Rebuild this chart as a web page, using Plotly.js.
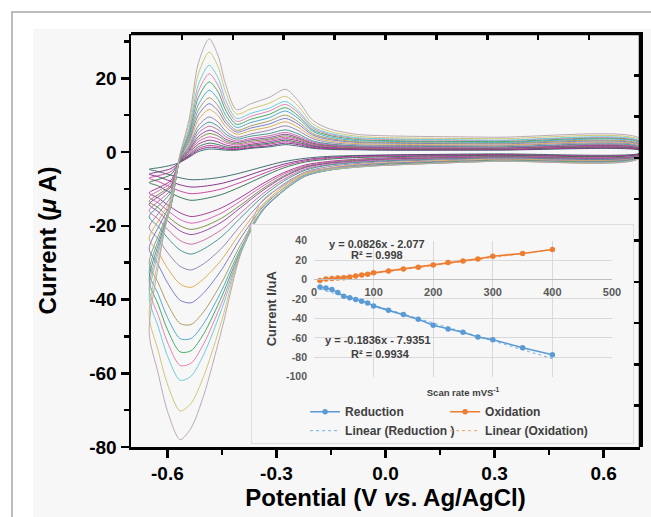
<!DOCTYPE html>
<html>
<head>
<meta charset="utf-8">
<script src="https://cdn.plot.ly/plotly-3.0.1.min.js"></script>
<style>
html,body{margin:0;padding:0;background:#ffffff;}
#chart{width:651px;height:517px;}
</style>
</head>
<body>
<div id="chart"></div>
<script>
// ---------- main CV data ----------
const scanRates = [10,20,30,40,50,60,70,80,90,100,125,150,175,200,225,250,275,300,350,400];

const forwardPotential = [-0.65,-0.62,-0.59,-0.565,-0.54,-0.515,-0.485,-0.46,-0.44,-0.41,-0.37,-0.32,-0.275,-0.24,-0.20,-0.155,-0.08,0.0,0.3,0.7];
const reversePotential = [0.7,0.3,0.0,-0.10,-0.16,-0.22,-0.28,-0.34,-0.40,-0.45,-0.50,-0.535,-0.565,-0.60,-0.625,-0.65];

const forwardCurrent = [
  [-4.7,-4.2,-3.6,-2.8,-1.4,0.1,0.8,0.7,0.5,0.5,1.0,1.4,2.0,1.6,1.0,0.7,0.6,0.5,0.5,0.4],
  [-6.0,-5.3,-4.5,-2.7,-1.2,0.5,1.3,1.1,0.8,0.7,1.2,1.7,2.4,2.0,1.2,0.9,0.7,0.6,0.6,0.5],
  [-7.1,-6.3,-5.3,-2.7,-1.0,0.9,1.8,1.5,1.1,0.9,1.5,2.1,2.8,2.3,1.4,1.0,0.8,0.7,0.7,0.6],
  [-8.3,-7.3,-6.1,-2.6,-0.8,1.4,2.4,2.0,1.4,1.2,1.8,2.4,3.2,2.6,1.6,1.2,0.9,0.8,0.8,0.7],
  [-11.1,-9.5,-7.7,-2.5,-0.4,2.1,3.2,2.7,1.9,1.5,2.1,2.8,3.6,3.0,1.8,1.3,1.0,0.9,0.9,0.8],
  [-12.2,-10.3,-8.3,-2.4,-0.1,2.8,4.1,3.5,2.5,1.9,2.5,3.2,4.0,3.3,2.0,1.5,1.1,1.0,0.9,0.9],
  [-13.4,-11.2,-9.0,-2.4,0.2,3.5,5.0,4.3,3.0,2.2,2.9,3.5,4.4,3.6,2.2,1.6,1.2,1.1,1.0,0.9],
  [-14.2,-11.8,-9.4,-2.3,0.5,4.2,5.9,5.0,3.5,2.6,3.3,3.9,4.8,3.9,2.4,1.8,1.4,1.2,1.1,1.0],
  [-15.9,-13.0,-10.2,-2.2,0.8,5.1,7.0,6.0,4.2,3.0,3.7,4.4,5.3,4.3,2.7,2.0,1.5,1.4,1.3,1.1],
  [-17.6,-14.2,-10.9,-2.1,1.2,6.0,8.1,6.9,4.9,3.5,4.3,5.0,6.0,4.9,3.0,2.2,1.7,1.6,1.4,1.3],
  [-20.5,-16.1,-12.0,-2.0,1.7,7.1,9.5,8.1,5.7,4.0,4.9,5.9,7.1,5.8,3.6,2.6,2.0,1.8,1.7,1.5],
  [-23.5,-17.9,-12.9,-1.8,2.4,8.7,11.5,9.8,6.9,4.8,5.8,6.8,8.2,6.7,4.1,3.0,2.3,2.1,1.9,1.7],
  [-26.3,-19.5,-13.6,-1.7,3.0,10.0,13.1,11.1,7.9,5.4,6.5,7.6,9.1,7.5,4.6,3.4,2.6,2.4,2.2,1.9],
  [-30.2,-21.5,-14.3,-1.5,3.6,11.3,14.7,12.5,8.8,5.9,7.1,8.4,10.0,8.2,5.0,3.7,2.8,2.6,2.4,2.1],
  [-32.7,-22.6,-14.5,-1.4,4.3,12.8,16.7,14.2,10.0,6.7,8.0,9.3,11.1,9.1,5.6,4.1,3.1,2.9,2.6,2.4],
  [-34.9,-23.6,-14.6,-1.2,5.0,14.7,19.0,16.2,11.4,7.5,8.9,10.2,12.0,9.8,6.0,4.5,3.4,3.1,2.8,2.6],
  [-37.2,-24.5,-14.5,-1.1,5.7,16.4,21.2,18.0,12.7,8.3,9.7,11.1,12.9,10.6,6.5,4.8,3.7,3.4,3.1,2.7],
  [-39.6,-25.4,-14.3,-1.0,6.5,18.2,23.5,20.0,14.1,9.1,10.5,11.9,13.7,11.2,6.9,5.1,3.9,3.6,3.2,2.9],
  [-44.5,-26.9,-13.5,-0.7,7.7,21.1,27.1,23.0,16.3,10.3,11.7,13.2,15.1,12.4,7.6,5.6,4.3,3.9,3.6,3.2],
  [-49.0,-28.0,-12.0,-0.5,8.9,24.0,30.7,26.0,18.4,11.5,13.1,14.8,17.0,13.9,8.6,6.3,4.8,4.4,4.0,3.6]
];

const reverseCurrent = [
  [-0.3,-0.5,-0.8,-1.0,-1.2,-1.7,-2.6,-4.1,-5.7,-6.8,-7.4,-7.5,-7.0,-6.0,-5.3,-4.7],
  [-0.4,-0.7,-0.9,-1.2,-1.5,-2.1,-3.3,-5.1,-7.1,-8.5,-9.3,-9.5,-8.9,-7.6,-6.7,-6.0],
  [-0.4,-0.8,-1.1,-1.4,-1.7,-2.4,-3.8,-6.0,-8.3,-10.0,-11.0,-11.3,-10.6,-9.1,-8.0,-7.1],
  [-0.5,-0.9,-1.3,-1.6,-2.0,-2.7,-4.3,-6.8,-9.5,-11.5,-12.7,-13.1,-12.3,-10.6,-9.2,-8.3],
  [-0.7,-1.1,-1.6,-2.1,-2.6,-3.5,-5.6,-8.7,-12.4,-15.1,-16.9,-17.5,-16.5,-14.3,-12.5,-11.1],
  [-0.7,-1.2,-1.8,-2.3,-2.8,-3.8,-6.0,-9.4,-13.4,-16.5,-18.6,-19.3,-18.3,-15.8,-13.8,-12.2],
  [-0.8,-1.3,-1.9,-2.4,-3.0,-4.0,-6.5,-10.1,-14.5,-17.9,-20.2,-21.0,-20.0,-17.4,-15.1,-13.4],
  [-0.8,-1.4,-2.0,-2.6,-3.1,-4.2,-6.8,-10.6,-15.2,-19.0,-21.5,-22.4,-21.4,-18.6,-16.2,-14.2],
  [-0.9,-1.5,-2.2,-2.8,-3.4,-4.6,-7.4,-11.5,-16.7,-21.0,-23.9,-25.0,-24.0,-20.9,-18.2,-15.9],
  [-1.0,-1.6,-2.4,-3.0,-3.6,-4.9,-7.9,-12.3,-18.0,-22.9,-26.3,-27.7,-26.6,-23.2,-20.2,-17.6],
  [-1.1,-1.8,-2.6,-3.3,-4.0,-5.4,-8.7,-13.5,-20.1,-26.0,-30.3,-32.0,-31.0,-27.2,-23.6,-20.5],
  [-1.2,-2.0,-2.9,-3.6,-4.4,-5.8,-9.3,-14.5,-22.0,-29.1,-34.4,-36.7,-35.8,-31.4,-27.2,-23.5],
  [-1.3,-2.2,-3.1,-3.8,-4.6,-6.1,-9.8,-15.2,-23.6,-31.8,-38.2,-40.9,-40.2,-35.4,-30.6,-26.3],
  [-1.4,-2.3,-3.3,-4.1,-4.9,-6.4,-10.3,-15.9,-25.4,-35.3,-43.3,-46.8,-46.5,-41.1,-35.5,-30.2],
  [-1.4,-2.4,-3.4,-4.2,-5.0,-6.5,-10.5,-16.1,-26.4,-37.4,-46.5,-50.6,-50.6,-44.8,-38.6,-32.7],
  [-1.5,-2.4,-3.5,-4.2,-5.0,-6.5,-10.5,-16.2,-27.1,-39.1,-49.3,-53.9,-54.2,-48.1,-41.4,-34.9],
  [-1.5,-2.5,-3.6,-4.3,-5.0,-6.5,-10.5,-16.1,-27.6,-40.8,-52.0,-57.3,-57.9,-51.5,-44.3,-37.2],
  [-1.5,-2.5,-3.6,-4.3,-5.0,-6.4,-10.4,-15.8,-28.0,-42.5,-54.9,-60.8,-61.9,-55.2,-47.4,-39.6],
  [-1.6,-2.5,-3.6,-4.2,-4.8,-6.0,-9.9,-14.8,-27.7,-45.6,-60.8,-68.2,-70.2,-62.9,-53.9,-44.5],
  [-1.6,-2.5,-3.6,-4.0,-4.5,-5.5,-9.0,-13.3,-28.1,-48.0,-66.0,-74.9,-78.0,-70.2,-60.1,-49.0]
];

const curveColors = ['#2f6060','#7b2382','#c2389c','#2e6e4c','#9b2c8c','#d25ab4','#6f8a3c','#8c3ca2','#c4649e','#3a8c8c',
                     '#8a7caa','#d9a448','#6c72c2','#a49458','#44a2c8','#36a256','#e07aa8','#62c6dc','#c8c266','#b5a0ae'];

// ---------- inset data ----------
const reductionCurrent = [-7.6,-8.6,-10.3,-13.4,-17.2,-18.6,-20.6,-22.3,-24.0,-27.1,-31.6,-36.0,-40.9,-47.1,-50.9,-54.3,-59.1,-61.9,-70.1,-77.3];
const oxidationCurrent = [-1.0,0.7,1.0,1.7,1.8,2.7,3.8,4.8,5.5,6.9,8.9,11.0,12.7,15.1,17.5,19.2,21.3,24.0,26.8,30.9];
const trendScanRate = [10,400];
const reductionTrend = [-9.8,-81.4];
const oxidationTrend = [-1.2,31.0];

// ---------- tick labels ----------
const xTickVals = [-0.6,-0.3,0,0.3,0.6];
const xTickText = ['-0.6','-0.3','0.0','0.3','0.6'];
const yTickVals = [-80,-60,-40,-20,0,20];
const yTickText = ['-80','-60','-40','-20','0','20'];
const insetXTicks = [0,100,200,300,400,500];
const insetXText = ['0','100','200','300','400','500'];
const insetYTicks = [-100,-80,-60,-40,-20,0,20,40];
const insetYText = ['-100','-80','-60','-40','-20','0','20','40'];

const FONT = 'Liberation Sans, Arial, sans-serif';

const traces = [];
for (let i = 0; i < scanRates.length; i++) {
  traces.push({
    type: 'scatter', mode: 'lines',
    x: forwardPotential.concat(reversePotential),
    y: forwardCurrent[i].concat(reverseCurrent[i]),
    line: {color: curveColors[i], width: 1, shape: 'spline', smoothing: 0.8},
    opacity: 0.9,
    showlegend: false, hoverinfo: 'skip',
    xaxis: 'x', yaxis: 'y', name: scanRates[i] + ' mV/s'
  });
}
// placeholder traces (no visible data) that register the inset box and the top/right frame subplots
traces.push({type: 'scatter', mode: 'lines', x: [null], y: [null], xaxis: 'x3', yaxis: 'y3', showlegend: false});
traces.push({type: 'scatter', mode: 'lines', x: [null], y: [null], xaxis: 'x5', yaxis: 'y5', showlegend: false});

traces.push({
  type: 'scatter', mode: 'lines', x: trendScanRate, y: reductionTrend,
  line: {color: '#8dbde6', width: 1.2, dash: 'dot'},
  name: 'Linear (Reduction )', xaxis: 'x4', yaxis: 'y4', legend: 'legend2', legendwidth: 95, hoverinfo: 'skip'
});
traces.push({
  type: 'scatter', mode: 'lines', x: trendScanRate, y: oxidationTrend,
  line: {color: '#f2b07e', width: 1.2, dash: 'dot'},
  name: 'Linear (Oxidation)', xaxis: 'x4', yaxis: 'y4', legend: 'legend2', legendwidth: 125, hoverinfo: 'skip'
});
traces.push({
  type: 'scatter', mode: 'lines+markers', x: scanRates, y: reductionCurrent,
  line: {color: '#5b9bd5', width: 1.6}, marker: {color: '#5b9bd5', size: 5.5},
  name: 'Reduction', xaxis: 'x4', yaxis: 'y4', legend: 'legend', legendwidth: 95, hoverinfo: 'skip'
});
traces.push({
  type: 'scatter', mode: 'lines+markers', x: scanRates, y: oxidationCurrent,
  line: {color: '#ed7d31', width: 1.6}, marker: {color: '#ed7d31', size: 5.5},
  name: 'Oxidation', xaxis: 'x4', yaxis: 'y4', legend: 'legend', legendwidth: 125, hoverinfo: 'skip'
});

const bold = (size, color) => ({family: FONT, size: size, color: color || '#000', weight: 700});

const shapes = [
  // figure background and outer border
  {type: 'rect', xref: 'paper', yref: 'paper', x0: -0.1925, x1: 1.2, y0: -0.3, y1: 1.0121,
   fillcolor: '#f7f7f7', line: {width: 0}, layer: 'below'},
  {type: 'rect', xref: 'paper', yref: 'paper', x0: -0.2338, x1: 1.2, y0: -0.3, y1: 1.0533,
   fillcolor: 'rgba(0,0,0,0)', line: {color: '#a6a6a6', width: 1.5}, layer: 'below'},
  // opaque inset panel, drawn inside the inset-box subplot so it hides the curves behind it
  {type: 'rect', xref: 'x3', yref: 'y3', x0: 0, x1: 1, y0: 0, y1: 1,
   fillcolor: '#f7f7f7', line: {width: 0}, layer: 'below'},
  // top and right plot edges
  {type: 'line', xref: 'paper', yref: 'paper', x0: 0, x1: 1, y0: 1, y1: 1,
   line: {color: '#000', width: 2.5}, layer: 'above'},
  {type: 'line', xref: 'paper', yref: 'paper', x0: 1, x1: 1, y0: 0, y1: 1,
   line: {color: '#000', width: 2.5}, layer: 'above'}
];

const layout = {
  width: 651, height: 517,
  margin: {l: 131, r: 11, t: 34, b: 70, pad: 0},
  paper_bgcolor: '#ffffff',
  plot_bgcolor: 'rgba(0,0,0,0)',
  font: {family: FONT, color: '#000'},
  showlegend: true,
  xaxis: {
    domain: [0, 1], anchor: 'y', range: [-0.7, 0.7],
    tickmode: 'array', tickvals: xTickVals, ticktext: xTickText,
    ticks: 'outside', ticklen: 8, tickwidth: 2.5, tickcolor: '#000',
    minor: {tickmode: 'array', tickvals: [-0.45, -0.15, 0.15, 0.45], ticks: 'outside', ticklen: 5, tickwidth: 2.5, tickcolor: '#000', showgrid: false},
    showline: true, linewidth: 2.5, linecolor: '#000',
    showgrid: false, zeroline: false, automargin: false,
    tickfont: bold(19),
    title: {text: 'Potential (V <i>vs</i>. Ag/AgCl)', font: bold(24), standoff: 6}
  },
  yaxis: {
    domain: [0, 1], anchor: 'x', range: [-80, 32],
    tickmode: 'array', tickvals: yTickVals, ticktext: yTickText,
    ticks: 'outside', ticklen: 8, tickwidth: 2.5, tickcolor: '#000',
    minor: {tickmode: 'array', tickvals: [-70, -50, -30, -10, 10, 30], ticks: 'outside', ticklen: 5, tickwidth: 2.5, tickcolor: '#000', showgrid: false},
    showline: true, linewidth: 2.5, linecolor: '#000',
    showgrid: false, zeroline: false, automargin: false,
    tickfont: bold(19),
    title: {text: 'Current (<i>μ</i> A)', font: bold(24), standoff: 26}
  },
  // inset frame
  xaxis3: {
    domain: [0.2377, 0.9862], anchor: 'y3', range: [0, 1],
    showline: true, mirror: true, linecolor: '#dedede', linewidth: 1,
    ticks: '', showticklabels: false, showgrid: false, zeroline: false
  },
  yaxis3: {
    domain: [0.0097, 0.5375], anchor: 'x3', range: [0, 1],
    showline: true, mirror: true, linecolor: '#dedede', linewidth: 1,
    ticks: '', showticklabels: false, showgrid: false, zeroline: false
  },
  // inset data axes
  xaxis4: {
    domain: [0.3595, 0.945], anchor: 'free', position: 0.406, range: [0, 500],
    tickmode: 'array', tickvals: insetXTicks, ticktext: insetXText,
    ticks: '', showline: true, linecolor: '#bfbfbf', linewidth: 1,
    showgrid: true, gridcolor: '#d9d9d9', gridwidth: 1, zeroline: false,
    tickfont: bold(11, '#595959'), ticklabelstandoff: 2, automargin: false,
    title: {text: 'Scan rate mVS<sup>-1</sup>', font: bold(9.5, '#404040'), standoff: 92}
  },
  yaxis4: {
    domain: [0.1702, 0.4995], anchor: 'x4', range: [-100, 40],
    tickmode: 'array', tickvals: insetYTicks, ticktext: insetYText,
    ticks: '', showline: false,
    showgrid: true, gridcolor: '#d9d9d9', gridwidth: 1, zeroline: false,
    tickfont: bold(10.5, '#595959'), ticklabelstandoff: 6, automargin: false,
    title: {text: 'Current I/uA', font: bold(13, '#404040'), standoff: 6}
  },
  // top and right frame axes with inward ticks (drawn on top of everything)
  xaxis5: {
    domain: [0, 1], anchor: 'y5', side: 'top', range: [0, 10], dtick: 1,
    ticks: 'inside', ticklen: 6, tickwidth: 2.5, tickcolor: '#000',
    showline: true, linewidth: 2.5, linecolor: '#000',
    showticklabels: false, showgrid: false, zeroline: false
  },
  yaxis5: {
    domain: [0, 1], anchor: 'x5', side: 'right', range: [0, 10], dtick: 1,
    ticks: 'inside', ticklen: 6, tickwidth: 2.5, tickcolor: '#000',
    showline: true, linewidth: 2.5, linecolor: '#000',
    showticklabels: false, showgrid: false, zeroline: false
  },
  legend: {
    x: 0.342, y: 0.0855, xanchor: 'left', yanchor: 'middle',
    orientation: 'h', bgcolor: 'rgba(0,0,0,0)', borderwidth: 0,
    font: bold(12, '#404040'), traceorder: 'normal', itemwidth: 30
  },
  legend2: {
    x: 0.342, y: 0.0395, xanchor: 'left', yanchor: 'middle',
    orientation: 'h', bgcolor: 'rgba(0,0,0,0)', borderwidth: 0,
    font: bold(12, '#404040'), traceorder: 'normal', itemwidth: 30
  },
  annotations: [
    {xref: 'x4', yref: 'y4', x: 105, y: 37, text: 'y = 0.0826x - 2.077', showarrow: false, font: bold(11, '#404040')},
    {xref: 'x4', yref: 'y4', x: 105, y: 25, text: 'R² = 0.998', showarrow: false, font: bold(11, '#404040')},
    {xref: 'x4', yref: 'y4', x: 108, y: -62, text: 'y = -0.1836x - 7.9351', showarrow: false, font: bold(11, '#404040')},
    {xref: 'x4', yref: 'y4', x: 111, y: -76.3, text: 'R² = 0.9934', showarrow: false, font: bold(11, '#404040')}
  ],
  shapes: shapes
};

Plotly.newPlot('chart', traces, layout, {displayModeBar: false, staticPlot: true});
</script>
</body>
</html>
